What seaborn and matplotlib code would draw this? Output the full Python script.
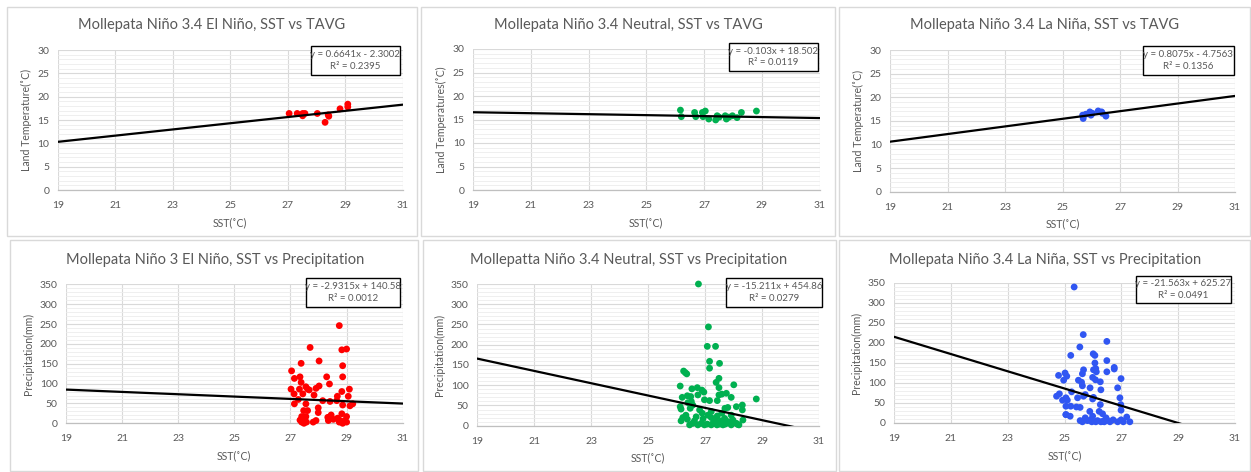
import matplotlib
matplotlib.use("Agg")
import matplotlib.pyplot as plt
from matplotlib.patches import Rectangle
from matplotlib.ticker import MultipleLocator, FixedLocator
import numpy as np
import pandas as pd
import seaborn as sns

sns.set_theme(style="white")
plt.rcParams['font.family'] = ['Lato', 'DejaVu Sans']

# ---------------- data ----------------
titles = [
    "Mollepata Niño 3.4 El Niño, SST vs TAVG",
    "Mollepata Niño 3.4 Neutral, SST vs TAVG",
    "Mollepata Niño 3.4 La Niña, SST vs TAVG",
    "Mollepata Niño 3 El Niño, SST vs Precipitation",
    "Mollepatta Niño 3.4 Neutral, SST vs Precipitation",
    "Mollepata Niño 3.4 La Niña, SST vs Precipitation",
]
ylabels = ["Land Temperature(˚C)", "Land Temperatures(˚C)", "Land Temperature(˚C)",
           "Precipitation(mm)", "Precipitation(mm)", "Precipitation(mm)"]
xlabel = "SST(˚C)"
x_ticks = [19, 21, 23, 25, 27, 29, 31]

slopes = [0.6641, -0.103, 0.8075, -2.9315, -15.211, -21.563]
intercepts = [-2.3002, 18.502, -4.7563, 140.58, 454.86, 625.27]
r2_values = ["0.2395", "0.0119", "0.1356", "0.0012", "0.0279", "0.0491"]

# El Niño, temperature
elnino_t_sst = [27.05, 27.33, 27.52, 27.52, 27.60, 28.03, 28.30, 28.41, 28.43, 28.82, 29.09, 29.09]
elnino_t_tavg = [16.4, 16.4, 16.4, 15.9, 16.4, 16.4, 14.5, 16.1, 15.8, 17.4, 18.4, 17.8]

# Neutral, temperature
neutral_t_sst = [26.18, 26.21, 26.67, 26.71, 26.94, 26.96, 27.04, 27.16, 27.40, 27.45,
                 27.52, 27.73, 27.77, 27.86, 27.98, 28.14, 28.29, 28.81]
neutral_t_tavg = [17.0, 15.6, 16.5, 15.6, 16.5, 15.6, 16.8, 15.1, 14.9, 15.8,
                  15.5, 15.8, 15.1, 15.5, 15.8, 15.4, 16.5, 16.8]

# La Niña, temperature
lanina_t_sst = [25.70, 25.72, 25.81, 25.95, 25.99, 26.04, 26.24, 26.36, 26.39, 26.51]
lanina_t_tavg = [16.2, 15.5, 16.4, 16.9, 16.2, 16.6, 17.1, 16.9, 16.6, 16.0]

# El Niño, precipitation
elnino_p_sst = [28.74, 27.70, 28.83, 29.00, 28.02, 27.38, 28.86, 27.04, 27.14, 27.34,
                28.29, 28.86, 27.38, 28.39, 28.02, 27.91, 27.02, 27.32, 27.55, 27.61,
                27.67, 29.10, 28.83, 27.13, 27.44, 27.84, 28.67, 29.06, 27.28, 28.15,
                28.41, 28.65, 27.14, 27.55, 28.86, 29.12, 29.22, 27.99, 27.47, 27.61,
                27.99, 28.45, 28.83, 27.40, 27.55, 28.33, 29.00, 28.68, 27.34, 27.50,
                27.91, 28.53, 28.35, 28.77, 28.94, 27.40, 27.48, 27.57, 27.81, 28.74,
                28.86, 29.00]
elnino_p_prcp = [246, 191, 185, 187, 157, 151, 145, 132, 113, 117,
                 117, 117, 103, 99, 94, 88, 86, 86, 92, 86,
                 84, 86, 80, 74, 74, 71, 68, 68, 60, 57,
                 55, 57, 49, 49, 46, 44, 49, 39, 32, 32,
                 27, 21, 24, 17, 17, 15, 17, 13, 8, 8,
                 7, 10, 7, 7, 7, 3, 0, 3, 3, 3,
                 0, 3]

# Neutral, precipitation
neutral_p_sst = [26.77, 27.12, 27.08, 27.37, 27.16, 27.51, 27.16, 26.25, 26.31, 26.36,
                 27.49, 27.39, 28.01, 26.13, 26.73, 27.49, 26.54, 26.89, 26.96, 27.75,
                 27.59, 26.75, 27.49, 26.38, 26.50, 26.20, 27.92, 28.80, 26.98, 26.52,
                 27.16, 27.43, 26.40, 26.57, 28.31, 28.10, 27.80, 27.70, 26.13, 26.16,
                 26.48, 26.81, 28.31, 27.22, 26.90, 27.59, 26.33, 27.10, 27.92, 27.43,
                 26.69, 27.22, 26.22, 26.38, 26.93, 27.69, 27.98, 28.33, 26.16, 26.63,
                 27.37, 27.57, 27.83, 26.57, 26.87, 27.08, 27.28, 27.51, 27.71, 28.10,
                 28.15, 26.46, 26.75, 26.98, 27.22, 27.42, 27.63, 27.92, 27.96, 28.19]
neutral_p_prcp = [350, 244, 196, 196, 159, 154, 142, 135, 131, 128,
                  117, 107, 101, 98, 94, 94, 91, 88, 83, 80,
                  78, 76, 76, 74, 72, 70, 70, 66, 64, 60,
                  62, 62, 57, 51, 51, 47, 45, 43, 47, 41,
                  43, 39, 39, 35, 31, 31, 26, 26, 26, 24,
                  22, 20, 20, 16, 17, 18, 14, 14, 12, 12,
                  14, 12, 10, 6, 6, 4, 6, 4, 4, 6,
                  3, 2, 2, 2, 2, 2, 2, 2, 6, 2]

# La Niña, precipitation
lanina_p_sst = [25.34, 25.66, 26.49, 25.54, 25.22, 26.01, 26.07, 26.07, 26.49, 26.75,
                26.75, 25.67, 26.02, 26.10, 26.12, 26.49, 25.02, 25.63, 24.79, 25.08,
                25.99, 26.99, 26.09, 24.97, 25.49, 25.60, 26.26, 25.63, 25.90, 26.87,
                26.28, 25.25, 24.82, 24.72, 25.67, 25.73, 25.05, 26.02, 25.46, 26.95,
                24.93, 25.10, 25.99, 26.26, 26.98, 25.05, 25.22, 25.42, 25.55, 26.99,
                25.05, 25.89, 26.22, 26.34, 25.05, 25.20, 25.73, 25.99, 27.19, 26.46,
                26.71, 26.99, 25.55, 25.81, 25.93, 26.16, 26.34, 26.49, 25.63, 25.96,
                26.28, 26.60, 26.87, 27.07, 27.30, 26.10, 26.40]
lanina_p_prcp = [340, 221, 204, 190, 169, 173, 169, 150, 156, 139,
                 135, 133, 133, 136, 128, 128, 125, 123, 119, 117,
                 114, 111, 108, 107, 107, 102, 103, 93, 88, 88,
                 83, 78, 73, 67, 67, 71, 63, 64, 63, 63,
                 57, 57, 60, 46, 46, 42, 42, 40, 39, 32,
                 21, 29, 29, 23, 21, 17, 13, 17, 15, 13,
                 8, 8, 6, 6, 8, 6, 4, 8, 3, 3,
                 3, 3, 3, 3, 3, 3, 3]

sst_series = [elnino_t_sst, neutral_t_sst, lanina_t_sst, elnino_p_sst, neutral_p_sst, lanina_p_sst]
val_series = [elnino_t_tavg, neutral_t_tavg, lanina_t_tavg, elnino_p_prcp, neutral_p_prcp, lanina_p_prcp]

# ---------------- styling / layout ----------------
colors = ["#FF0000", "#00B050", "#3056F2", "#FF0000", "#00B050", "#3056F2"]
text_gray = "#595959"
W, H = 1251, 472

# axes rectangles in pixels: left, right, top, bottom
axes_px = [
    (57.7, 402.7, 50, 190),
    (473, 819.7, 49, 190),
    (890, 1235, 50, 191.7),
    (66, 402.7, 284.3, 423.3),
    (477, 819, 284, 425.7),
    (894, 1235, 283, 423),
]
# chart-area frames in pixels: left, right, top, bottom
frames_px = [
    (7, 417, 7, 236), (421, 835, 7, 236), (839, 1250, 7, 236),
    (10, 418, 240, 471), (423, 836, 240, 471), (839, 1250, 240, 471),
]
title_pos = [(212, 25), (628, 25), (1045, 25), (215, 260), (629, 260), (1045, 260)]
# equation boxes in axes fraction: left, right, bottom, top
eq_boxes = [
    (0.734, 0.992, 0.821, 1.029),
    (0.738, 0.995, 0.844, 1.043),
    (0.733, 0.997, 0.823, 1.028),
    (0.712, 0.992, 0.839, 1.043),
    (0.729, 1.010, 0.840, 1.040),
    (0.709, 0.988, 0.855, 1.052),
]

fig = plt.figure(figsize=(W / 100, H / 100), dpi=100)
fig.patch.set_facecolor("white")

for i in range(6):
    fl, fr, ft, fb = frames_px[i]
    fig.patches.append(Rectangle((fl / W, 1 - fb / H), (fr - fl) / W, (fb - ft) / H,
                                 transform=fig.transFigure, fill=False,
                                 edgecolor="#d9d9d9", linewidth=1.0, zorder=0))

    l, r, t, b = axes_px[i]
    ax = fig.add_axes([l / W, 1 - b / H, (r - l) / W, (b - t) / H])
    top_row = i < 3
    ymax, ymaj, ymin_step = (30, 5, 1) if top_row else (350, 50, 10)

    df = pd.DataFrame({"sst": sst_series[i], "val": val_series[i]})
    sns.scatterplot(data=df, x="sst", y="val", ax=ax, color=colors[i], s=24,
                    edgecolor="none", zorder=3, clip_on=False)

    # linear trend line from the stated equation
    xs = np.array([19.0, 31.0])
    trend = pd.DataFrame({"sst": xs, "val": slopes[i] * xs + intercepts[i]})
    sns.lineplot(data=trend, x="sst", y="val", ax=ax, color="black", linewidth=1.6, zorder=4)

    ax.set_xlim(19, 31)
    ax.set_ylim(0, ymax)
    ax.xaxis.set_major_locator(FixedLocator(x_ticks))
    ax.yaxis.set_major_locator(MultipleLocator(ymaj))
    ax.yaxis.set_minor_locator(MultipleLocator(ymin_step))
    ax.grid(True, which="major", axis="both", color="#d9d9d9", linewidth=0.8, zorder=0)
    ax.grid(True, which="minor", axis="y", color="#ededed", linewidth=0.6, zorder=0)
    ax.set_axisbelow(True)
    for side in ["top", "right", "left"]:
        ax.spines[side].set_visible(False)
    ax.spines["bottom"].set_color("#bfbfbf")
    ax.spines["bottom"].set_linewidth(0.9)
    ax.tick_params(axis="both", which="both", length=0, labelsize=7.5, colors=text_gray)
    ax.tick_params(axis="x", pad=8)
    ax.tick_params(axis="y", pad=6)
    ax.set_xlabel(xlabel, fontsize=7.6, color=text_gray, labelpad=5)
    ax.set_ylabel(ylabels[i], fontsize=7.6, color=text_gray, labelpad=4)

    # equation label box
    bl, br, bb, bt = eq_boxes[i]
    ax.add_patch(Rectangle((bl, bb), br - bl, bt - bb, transform=ax.transAxes,
                           facecolor="white", edgecolor="black", linewidth=1.0,
                           clip_on=False, zorder=6))
    sign = "-" if intercepts[i] < 0 else "+"
    eq = f"y = {slopes[i]:g}x {sign} {abs(intercepts[i]):g}"
    cx = (bl + br) / 2
    ax.text(cx, bb + (bt - bb) * 0.70, eq, transform=ax.transAxes, ha="center", va="center",
            fontsize=7.0, color=text_gray, zorder=7)
    ax.text(cx, bb + (bt - bb) * 0.30, f"R² = {r2_values[i]}", transform=ax.transAxes,
            ha="center", va="center", fontsize=7.0, color=text_gray, zorder=7)

    tx, ty = title_pos[i]
    fig.text(tx / W, 1 - ty / H, titles[i], ha="center", va="center",
             fontsize=10.5, color=text_gray)

fig.savefig("out.png", dpi=100, facecolor="white")
